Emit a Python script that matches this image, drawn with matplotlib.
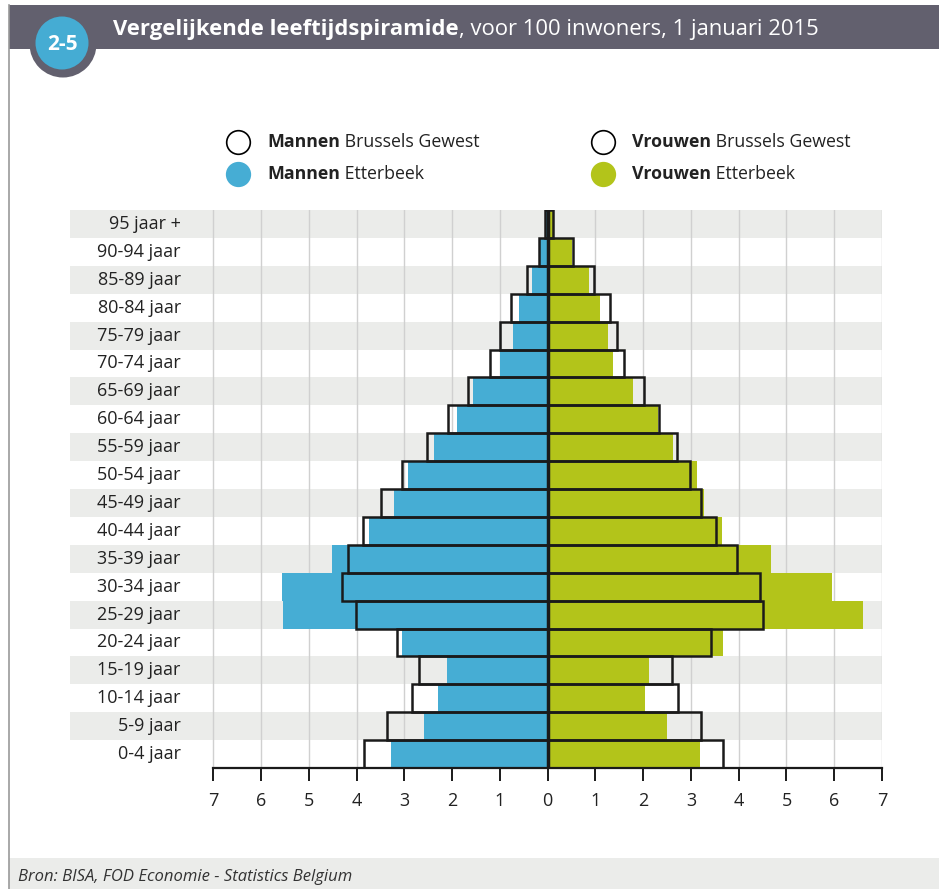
import matplotlib
matplotlib.use('Agg')
import matplotlib.pyplot as plt
from matplotlib.patches import Circle, Rectangle

# leeftijdsgroepen, van jong naar oud
groepen = ['0-4 jaar', '5-9 jaar', '10-14 jaar', '15-19 jaar', '20-24 jaar',
           '25-29 jaar', '30-34 jaar', '35-39 jaar', '40-44 jaar', '45-49 jaar',
           '50-54 jaar', '55-59 jaar', '60-64 jaar', '65-69 jaar', '70-74 jaar',
           '75-79 jaar', '80-84 jaar', '85-89 jaar', '90-94 jaar', '95 jaar +']

# per 100 inwoners
mannen_etterbeek = [3.29, 2.59, 2.30, 2.11, 3.04, 5.55, 5.57, 4.51, 3.74, 3.21,
                    2.92, 2.38, 1.90, 1.56, 1.00, 0.73, 0.59, 0.33, 0.17, 0.04]
mannen_brussel = [3.85, 3.37, 2.83, 2.69, 3.16, 4.02, 4.31, 4.19, 3.86, 3.49,
                  3.04, 2.52, 2.08, 1.67, 1.21, 1.00, 0.76, 0.43, 0.19, 0.05]
vrouwen_etterbeek = [3.20, 2.49, 2.04, 2.13, 3.67, 6.60, 5.96, 4.68, 3.64, 3.27,
                     3.13, 2.63, 2.32, 1.78, 1.36, 1.26, 1.09, 0.87, 0.52, 0.12]
vrouwen_brussel = [3.68, 3.22, 2.72, 2.60, 3.42, 4.51, 4.45, 3.97, 3.52, 3.21,
                   2.99, 2.70, 2.34, 2.01, 1.59, 1.46, 1.30, 0.96, 0.53, 0.12]
ticks = list(range(-7, 8))

blauw = '#46adD4'
groen = '#b3c41a'
donker = '#62606e'
band = '#ebecea'
lettertype = 'Open Sans'

W, H = 939, 889
fig = plt.figure(figsize=(W / 100, H / 100), dpi=100)
fig.patch.set_facecolor('white')

# kader en kop
fig.add_artist(plt.Line2D([9 / W, 9 / W], [0, 1 - 5 / H], color='#9a9a9a', lw=1.2))
fig.add_artist(Rectangle((9 / W, 1 - 49 / H), 1, 44 / H, color=donker, lw=0))
fig.add_artist(Rectangle((9 / W, 0), 1, 31 / H, color=band, lw=0))

badge = fig.add_axes([0, 1 - 110 / H, 130 / W, 110 / H], zorder=5)
badge.set_xlim(0, 130)
badge.set_ylim(110, 0)
badge.set_aspect('equal')
badge.axis('off')
badge.add_patch(Circle((63, 44), 33.5, color=donker, lw=0))
badge.add_patch(Circle((62, 43), 26.5, color='#45acd3', lw=0))
badge.text(62, 44, '2-5', color='white', fontsize=15, fontweight='bold',
           ha='center', va='center', family=lettertype)

fig.canvas.draw()
renderer = fig.canvas.get_renderer()


def twee_delen(x, y, vet, rest, kleur, grootte):
    t = fig.text(x / W, 1 - y / H, vet, color=kleur, fontsize=grootte, fontweight='bold',
                 va='center', ha='left', family=lettertype, zorder=6)
    bb = t.get_window_extent(renderer=renderer)
    fig.text(bb.x1 / W, 1 - y / H, rest, color=kleur, fontsize=grootte,
             va='center', ha='left', family=lettertype, zorder=6)


twee_delen(113, 29, 'Vergelijkende leeftijdspiramide', ', voor 100 inwoners, 1 januari 2015',
           'white', 15.8)

# legenda
for (cx, cy, vul, vet, rest) in [(238, 142, 'white', 'Mannen', ' Brussels Gewest'),
                                 (238, 174, blauw, 'Mannen', ' Etterbeek'),
                                 (603, 142, 'white', 'Vrouwen', ' Brussels Gewest'),
                                 (603, 174, groen, 'Vrouwen', ' Etterbeek')]:
    rand = 'black' if vul == 'white' else vul
    fig.add_artist(plt.Line2D([cx / W], [1 - cy / H], marker='o', markersize=17,
                              markerfacecolor=vul, markeredgecolor=rand, markeredgewidth=1.2))
    twee_delen(cx + 29, cy, vet, rest, '#222222', 12.8)

# piramide
ax = fig.add_axes([70 / W, 1 - 768 / H, (882 - 70) / W, (768 - 210) / H])
ax.set_xlim(-10, 7)
ax.set_ylim(-0.5, len(groepen) - 0.5)
y = list(range(len(groepen)))

for i in y:
    if (len(groepen) - 1 - i) % 2 == 0:
        ax.axhspan(i - 0.5, i + 0.5, color=band, lw=0, zorder=0)
for t in ticks:
    ax.plot([t, t], [-0.5, len(groepen) - 0.5], color='#d0d0d0', lw=1, zorder=1)

ax.barh(y, [-v for v in mannen_etterbeek], height=1.0, color=blauw, lw=0, zorder=2)
ax.barh(y, vrouwen_etterbeek, height=1.0, color=groen, lw=0, zorder=2)
ax.barh(y, [-v for v in mannen_brussel], height=1.0, fill=False, edgecolor='#1a1a1a',
        lw=1.8, zorder=3)
ax.barh(y, vrouwen_brussel, height=1.0, fill=False, edgecolor='#1a1a1a', lw=1.8, zorder=3)
ax.plot([0, 0], [-0.5, len(groepen) - 0.5], color='#1a1a1a', lw=2.5, zorder=4)

for i, g in zip(y, groepen):
    ax.text(-7.68, i, g, ha='right', va='center', fontsize=13, color='#222222',
            family=lettertype)

for s in ['top', 'right', 'left']:
    ax.spines[s].set_visible(False)
ax.spines['bottom'].set_bounds(-7, 7)
ax.spines['bottom'].set_linewidth(1.6)
ax.spines['bottom'].set_color('#1a1a1a')
ax.set_yticks([])
ax.set_xticks(ticks)
ax.set_xticklabels([str(abs(t)) for t in ticks], fontsize=13, color='#222222',
                   family=lettertype)
ax.tick_params(axis='x', length=9, width=1.4, color='#1a1a1a', pad=8)

fig.text(18 / W, 1 - 877 / H, 'Bron: BISA, FOD Economie - Statistics Belgium',
         fontsize=12, style='italic', color='#333333', va='center', family=lettertype)

plt.savefig('out.png', dpi=100)
